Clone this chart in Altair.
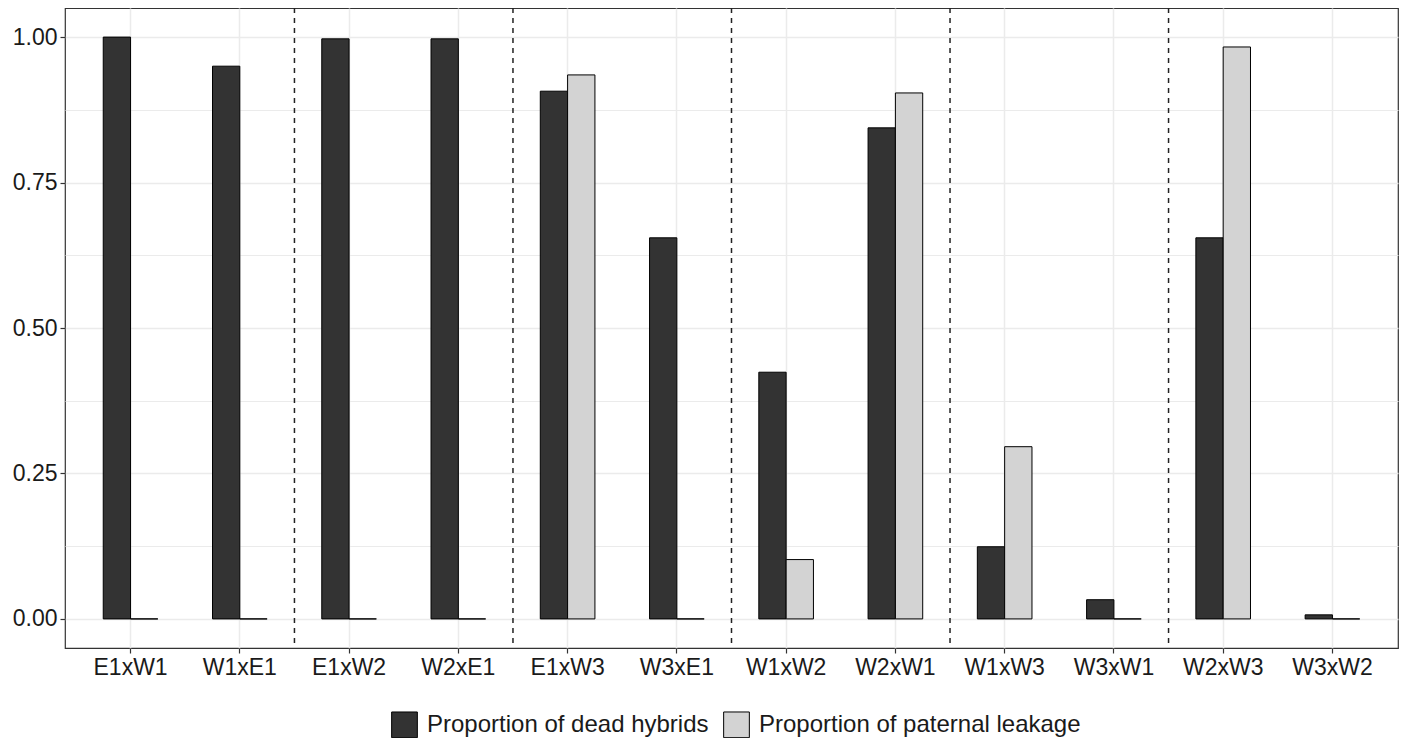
import altair as alt
import pandas as pd

crosses = ["E1xW1", "W1xE1", "E1xW2", "W2xE1", "E1xW3", "W3xE1",
           "W1xW2", "W2xW1", "W1xW3", "W3xW1", "W2xW3", "W3xW2"]
dead_hybrids = [1.00, 0.95, 0.997, 0.997, 0.907, 0.655,
                0.424, 0.844, 0.124, 0.033, 0.655, 0.007]
paternal_leakage = [0.0, 0.0, 0.0, 0.0, 0.935, 0.0,
                    0.102, 0.904, 0.296, 0.0, 0.983, 0.0]
series = ["Proportion of dead hybrids", "Proportion of paternal leakage"]
colors = ["#333333", "#D3D3D3"]
y_ticks = [0.0, 0.25, 0.5, 0.75, 1.0]
group_size = 2

rows = []
for c, d, l in zip(crosses, dead_hybrids, paternal_leakage):
    rows.append({"cross": c, "series": series[0], "value": d})
    rows.append({"cross": c, "series": series[1], "value": l})
df = pd.DataFrame(rows)

# separators between each group of crosses (1-based category index + 0.5)
n = len(crosses)
sep_df = pd.DataFrame({"pos": [i + 0.5 for i in range(group_size, n, group_size)]})

minor = [(a + b) / 2 for a, b in zip(y_ticks[:-1], y_ticks[1:])]
y_values = sorted(y_ticks + minor)

FONT = "Liberation Sans"
x_scale = alt.Scale(domain=crosses, paddingInner=0.5, paddingOuter=0.35)

bars = alt.Chart(df).mark_bar(stroke="black", strokeWidth=1).encode(
    x=alt.X("cross:N", scale=x_scale, title=None,
            axis=alt.Axis(labelAngle=0, labelFontSize=23, labelFont=FONT,
                          labelColor="#1a1a1a", tickColor="#333333", tickSize=5,
                          tickWidth=1.2, domain=False, grid=True,
                          gridColor="#EBEBEB", gridWidth=1.5, labelPadding=3)),
    xOffset=alt.XOffset("series:N", scale=alt.Scale(domain=series)),
    y=alt.Y("value:Q", scale=alt.Scale(domain=[-0.05, 1.05], nice=False), title=None,
            axis=alt.Axis(values=y_values,
                          labelExpr="datum.value % 0.25 === 0 ? format(datum.value, '.2f') : ''",
                          labelFontSize=23, labelFont=FONT, labelColor="#1a1a1a",
                          tickColor="#333333", tickSize=5, tickWidth=1.2,
                          tickOpacity={"condition": {"test": "datum.value % 0.25 === 0", "value": 1}, "value": 0},
                          gridWidth={"condition": {"test": "datum.value % 0.25 === 0", "value": 1.5}, "value": 1},
                          domain=False, grid=True, gridColor="#EBEBEB", labelPadding=3)),
    color=alt.Color("series:N", scale=alt.Scale(domain=series, range=colors),
                    legend=alt.Legend(title=None, orient="none", direction="horizontal",
                                      legendX=326, legendY=703,
                                      symbolType="square", symbolSize=660,
                                      symbolStrokeColor="black", symbolStrokeWidth=1,
                                      labelFontSize=24, labelFont=FONT, labelColor="#1a1a1a",
                                      labelLimit=0, labelOffset=9, columnPadding=12, padding=0)),
)

seps = alt.Chart(sep_df).mark_rule(color="#222222", strokeDash=[5, 5], strokeWidth=1.5).encode(
    x=alt.X("pos:Q", scale=alt.Scale(domain=[0.4, n + 0.6], nice=False, zero=False), axis=None),
)

chart = alt.layer(bars, seps).resolve_scale(x="independent").properties(
    width=1333, height=640,
    autosize=alt.AutoSizeParams(type="none"),
    padding={"left": 57, "top": 0, "right": 2, "bottom": 90},
).configure_view(stroke="#333333", strokeWidth=1.2)

chart.save("out.html", embed_options={"renderer": "svg", "actions": False})
